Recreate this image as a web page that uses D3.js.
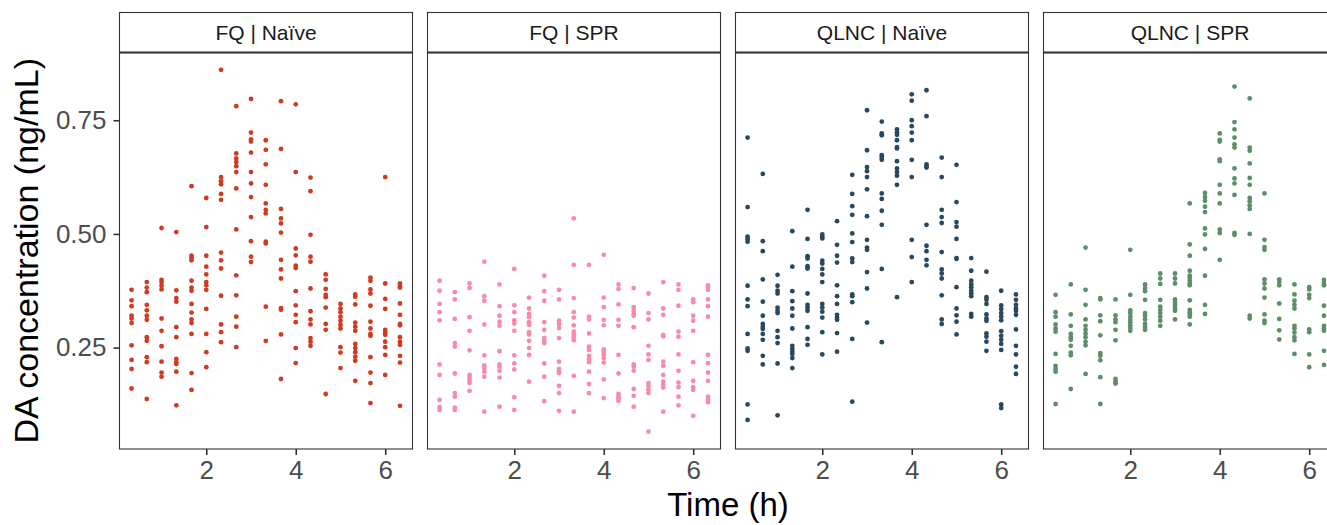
<!DOCTYPE html>
<html>
<head>
<meta charset="utf-8">
<script src="https://cdn.jsdelivr.net/npm/d3@7"></script>
<style>
  html, body { margin: 0; padding: 0; background: #fff; overflow: hidden; }
  text { font-family: "Liberation Sans", Arial, sans-serif; }
</style>
</head>
<body>
<div id="chart"></div>
<script>
// sampling times (h)
const times = [0.33, 0.67, 1, 1.33, 1.67, 2, 2.33, 2.67, 3, 3.33, 3.67, 4, 4.33, 4.67, 5, 5.33, 5.67, 6, 6.33];

const panelNames = ["FQ | Naïve", "FQ | SPR", "QLNC | Naïve", "QLNC | SPR"];
const panelColors = ["#D23A20", "#F98BA6", "#29485E", "#5C8E69"];

// DA concentration (ng/mL), one inner list per sampling time
const fqNaive = [
  [0.377, 0.354, 0.341, 0.320, 0.314, 0.304, 0.255, 0.223, 0.203, 0.160],
  [0.394, 0.382, 0.372, 0.344, 0.332, 0.320, 0.311, 0.273, 0.265, 0.229, 0.218, 0.137],
  [0.513, 0.399, 0.394, 0.386, 0.378, 0.314, 0.287, 0.253, 0.219, 0.195, 0.186],
  [0.504, 0.376, 0.359, 0.351, 0.295, 0.273, 0.225, 0.218, 0.214, 0.197, 0.123],
  [0.605, 0.452, 0.447, 0.442, 0.397, 0.382, 0.375, 0.346, 0.327, 0.312, 0.304, 0.280, 0.194, 0.157],
  [0.579, 0.515, 0.452, 0.428, 0.411, 0.394, 0.387, 0.377, 0.335, 0.280, 0.240, 0.207],
  [0.861, 0.625, 0.616, 0.609, 0.588, 0.575, 0.459, 0.442, 0.424, 0.364, 0.301, 0.284, 0.262],
  [0.781, 0.677, 0.666, 0.658, 0.649, 0.636, 0.600, 0.510, 0.409, 0.365, 0.318, 0.296, 0.251],
  [0.797, 0.723, 0.708, 0.703, 0.679, 0.636, 0.611, 0.581, 0.537, 0.484, 0.450, 0.438],
  [0.706, 0.685, 0.653, 0.608, 0.567, 0.553, 0.545, 0.483, 0.479, 0.340, 0.265],
  [0.792, 0.687, 0.555, 0.534, 0.523, 0.503, 0.443, 0.422, 0.402, 0.337, 0.333, 0.279, 0.181],
  [0.785, 0.636, 0.468, 0.453, 0.430, 0.425, 0.374, 0.343, 0.322, 0.306, 0.249, 0.216],
  [0.624, 0.594, 0.498, 0.450, 0.439, 0.380, 0.330, 0.312, 0.301, 0.271, 0.263, 0.254],
  [0.411, 0.399, 0.379, 0.366, 0.361, 0.338, 0.302, 0.289, 0.148],
  [0.346, 0.336, 0.328, 0.318, 0.309, 0.300, 0.292, 0.251, 0.239, 0.205],
  [0.367, 0.362, 0.345, 0.305, 0.296, 0.287, 0.258, 0.249, 0.240, 0.230, 0.221, 0.177],
  [0.404, 0.397, 0.378, 0.369, 0.342, 0.307, 0.292, 0.280, 0.276, 0.229, 0.195, 0.172, 0.128],
  [0.625, 0.391, 0.357, 0.335, 0.289, 0.283, 0.278, 0.263, 0.251, 0.234, 0.190],
  [0.391, 0.386, 0.382, 0.347, 0.322, 0.302, 0.299, 0.273, 0.263, 0.256, 0.232, 0.217, 0.122]
];

const fqSpr = [
  [0.397, 0.375, 0.346, 0.328, 0.310, 0.213, 0.190, 0.135, 0.119, 0.113],
  [0.372, 0.356, 0.313, 0.260, 0.252, 0.193, 0.150, 0.142, 0.118, 0.113],
  [0.391, 0.381, 0.317, 0.287, 0.244, 0.190, 0.185, 0.179, 0.172, 0.155],
  [0.439, 0.363, 0.353, 0.301, 0.233, 0.211, 0.205, 0.197, 0.186, 0.109],
  [0.389, 0.341, 0.320, 0.307, 0.298, 0.242, 0.213, 0.208, 0.199, 0.184, 0.120],
  [0.423, 0.343, 0.328, 0.310, 0.303, 0.287, 0.233, 0.215, 0.202, 0.141, 0.113],
  [0.360, 0.336, 0.324, 0.317, 0.306, 0.300, 0.284, 0.279, 0.265, 0.249, 0.234, 0.175],
  [0.408, 0.374, 0.353, 0.306, 0.289, 0.271, 0.265, 0.260, 0.215, 0.186, 0.132],
  [0.377, 0.356, 0.309, 0.302, 0.293, 0.271, 0.219, 0.203, 0.197, 0.194, 0.166, 0.150, 0.111],
  [0.534, 0.432, 0.359, 0.328, 0.316, 0.299, 0.285, 0.279, 0.273, 0.266, 0.188, 0.109],
  [0.432, 0.318, 0.312, 0.281, 0.252, 0.245, 0.232, 0.224, 0.218, 0.197, 0.170, 0.150],
  [0.454, 0.360, 0.339, 0.311, 0.299, 0.246, 0.241, 0.235, 0.227, 0.217, 0.180, 0.139],
  [0.389, 0.379, 0.345, 0.311, 0.298, 0.234, 0.193, 0.148, 0.142, 0.138, 0.133],
  [0.381, 0.339, 0.331, 0.324, 0.320, 0.295, 0.213, 0.208, 0.199, 0.159, 0.144, 0.120],
  [0.369, 0.326, 0.312, 0.254, 0.235, 0.223, 0.172, 0.166, 0.158, 0.150, 0.065],
  [0.394, 0.336, 0.322, 0.278, 0.275, 0.219, 0.210, 0.190, 0.175, 0.168, 0.162, 0.109],
  [0.389, 0.377, 0.342, 0.285, 0.274, 0.235, 0.199, 0.173, 0.163, 0.142, 0.123],
  [0.356, 0.350, 0.320, 0.309, 0.287, 0.218, 0.177, 0.163, 0.157, 0.100],
  [0.387, 0.382, 0.377, 0.356, 0.341, 0.318, 0.234, 0.216, 0.195, 0.177, 0.142, 0.136, 0.130]
];

const qlncNaive = [
  [0.712, 0.559, 0.494, 0.489, 0.483, 0.386, 0.356, 0.341, 0.280, 0.248, 0.243, 0.125, 0.091],
  [0.632, 0.484, 0.462, 0.400, 0.351, 0.320, 0.302, 0.296, 0.291, 0.280, 0.267, 0.232, 0.213],
  [0.410, 0.386, 0.375, 0.369, 0.338, 0.331, 0.326, 0.287, 0.273, 0.260, 0.215, 0.101],
  [0.506, 0.428, 0.374, 0.352, 0.336, 0.320, 0.292, 0.254, 0.247, 0.241, 0.236, 0.227, 0.205],
  [0.553, 0.489, 0.451, 0.446, 0.429, 0.424, 0.369, 0.344, 0.338, 0.331, 0.295, 0.269, 0.256],
  [0.499, 0.494, 0.490, 0.441, 0.435, 0.423, 0.411, 0.394, 0.346, 0.338, 0.329, 0.316, 0.284, 0.235],
  [0.528, 0.476, 0.452, 0.437, 0.387, 0.363, 0.346, 0.322, 0.316, 0.311, 0.282, 0.241],
  [0.630, 0.588, 0.561, 0.542, 0.501, 0.482, 0.446, 0.438, 0.367, 0.363, 0.350, 0.269, 0.131],
  [0.772, 0.684, 0.647, 0.638, 0.625, 0.598, 0.539, 0.487, 0.470, 0.465, 0.416, 0.380, 0.305],
  [0.747, 0.721, 0.717, 0.673, 0.668, 0.663, 0.589, 0.577, 0.551, 0.520, 0.423, 0.262],
  [0.730, 0.723, 0.718, 0.706, 0.691, 0.688, 0.660, 0.644, 0.636, 0.628, 0.608, 0.361],
  [0.807, 0.793, 0.750, 0.737, 0.723, 0.706, 0.663, 0.625, 0.487, 0.449, 0.394],
  [0.816, 0.759, 0.653, 0.649, 0.646, 0.520, 0.474, 0.462, 0.443, 0.431],
  [0.668, 0.625, 0.553, 0.537, 0.524, 0.460, 0.422, 0.413, 0.402, 0.365, 0.312, 0.302],
  [0.652, 0.570, 0.526, 0.516, 0.489, 0.447, 0.445, 0.383, 0.336, 0.321, 0.307, 0.279],
  [0.447, 0.419, 0.397, 0.389, 0.383, 0.375, 0.369, 0.363, 0.324, 0.318],
  [0.417, 0.361, 0.355, 0.346, 0.323, 0.314, 0.309, 0.281, 0.274, 0.263, 0.243],
  [0.375, 0.343, 0.335, 0.326, 0.318, 0.310, 0.286, 0.276, 0.267, 0.258, 0.245, 0.125, 0.117],
  [0.367, 0.355, 0.344, 0.336, 0.331, 0.322, 0.290, 0.254, 0.235, 0.208, 0.192]
];

const qlncSpr = [
  [0.366, 0.328, 0.318, 0.301, 0.292, 0.285, 0.236, 0.210, 0.203, 0.197, 0.126],
  [0.389, 0.323, 0.298, 0.280, 0.273, 0.267, 0.254, 0.239, 0.233, 0.159],
  [0.470, 0.377, 0.344, 0.312, 0.298, 0.289, 0.281, 0.273, 0.263, 0.255, 0.192],
  [0.359, 0.356, 0.321, 0.308, 0.277, 0.238, 0.232, 0.222, 0.185, 0.126],
  [0.356, 0.321, 0.312, 0.306, 0.289, 0.266, 0.181, 0.175, 0.171],
  [0.465, 0.366, 0.332, 0.326, 0.318, 0.311, 0.305, 0.299, 0.293, 0.287],
  [0.389, 0.381, 0.374, 0.355, 0.326, 0.320, 0.312, 0.302, 0.296, 0.289],
  [0.413, 0.402, 0.390, 0.355, 0.340, 0.333, 0.326, 0.318, 0.309, 0.298],
  [0.413, 0.402, 0.391, 0.356, 0.349, 0.343, 0.336, 0.331, 0.312],
  [0.567, 0.477, 0.452, 0.419, 0.408, 0.403, 0.397, 0.391, 0.387, 0.354, 0.333, 0.328, 0.323, 0.318, 0.301],
  [0.590, 0.581, 0.573, 0.560, 0.548, 0.512, 0.499, 0.467, 0.408, 0.344, 0.324],
  [0.721, 0.707, 0.703, 0.664, 0.660, 0.608, 0.589, 0.567, 0.510, 0.502, 0.443],
  [0.824, 0.746, 0.730, 0.712, 0.697, 0.690, 0.644, 0.622, 0.611, 0.586, 0.502, 0.498],
  [0.798, 0.690, 0.683, 0.655, 0.623, 0.608, 0.579, 0.572, 0.563, 0.555, 0.500, 0.320, 0.314],
  [0.589, 0.487, 0.471, 0.465, 0.400, 0.391, 0.380, 0.360, 0.323, 0.309, 0.304],
  [0.400, 0.394, 0.387, 0.347, 0.313, 0.288, 0.268],
  [0.389, 0.367, 0.353, 0.344, 0.336, 0.298, 0.292, 0.283, 0.273, 0.266, 0.236],
  [0.383, 0.378, 0.366, 0.359, 0.290, 0.284, 0.235, 0.207],
  [0.399, 0.392, 0.387, 0.342, 0.320, 0.298, 0.292, 0.287, 0.243, 0.212]
];

const xTicks = [2, 4, 6];
const yTicks = [0.25, 0.50, 0.75];

const panels = [fqNaive, fqSpr, qlncNaive, qlncSpr];

const width = 1345, height = 525;
const panelW = 293, panelH = 396.5, gap = 15;
const left0 = 119.5, top0 = 52.5, stripH = 40;

const svg = d3.select("#chart").append("svg")
  .attr("width", width)
  .attr("height", height);

const x = d3.scaleLinear().domain([0.06, 6.61]).range([0, panelW]);
const y = d3.scaleLinear().domain([0.027, 0.899]).range([panelH, 0]);

panels.forEach((cols, i) => {
  const g = svg.append("g")
    .attr("transform", `translate(${left0 + i * (panelW + gap)},${top0})`);

  const pts = [];
  cols.forEach((vals, j) => vals.forEach(v => pts.push({ t: times[j], v })));

  g.append("rect")
    .attr("width", panelW).attr("height", panelH)
    .attr("fill", "#fff");

  g.selectAll("circle")
    .data(pts)
    .join("circle")
    .attr("cx", d => x(d.t))
    .attr("cy", d => y(d.v))
    .attr("r", 2.4)
    .attr("fill", panelColors[i]);

  g.append("rect")
    .attr("width", panelW).attr("height", panelH)
    .attr("fill", "none")
    .attr("stroke", "#333333")
    .attr("stroke-width", 1.1);

  // strip
  g.append("rect")
    .attr("y", -stripH)
    .attr("width", panelW).attr("height", stripH)
    .attr("fill", "#fff")
    .attr("stroke", "#333333")
    .attr("stroke-width", 1.1);
  g.append("line")
    .attr("x1", 0).attr("x2", panelW)
    .attr("y1", 0).attr("y2", 0)
    .attr("stroke", "#333333")
    .attr("stroke-width", 2);
  g.append("text")
    .attr("x", panelW / 2)
    .attr("y", -12.5)
    .attr("text-anchor", "middle")
    .attr("font-size", 21)
    .attr("fill", "#1A1A1A")
    .text(panelNames[i]);

  // x axis
  const xAxis = g.append("g")
    .attr("transform", `translate(0,${panelH})`)
    .call(d3.axisBottom(x).tickValues(xTicks).tickSize(6).tickPadding(6).tickFormat(d3.format("d")));
  xAxis.select(".domain").remove();
  xAxis.selectAll("line").attr("stroke", "#333333").attr("stroke-width", 1.6);
  xAxis.selectAll("text")
    .attr("font-size", 26)
    .attr("fill", "#4D4D4D")
    .attr("font-family", "Liberation Sans, Arial, sans-serif");

  if (i === 0) {
    const yAxis = g.append("g")
      .call(d3.axisLeft(y).tickValues(yTicks).tickSize(6).tickPadding(7).tickFormat(d3.format(".2f")));
    yAxis.select(".domain").remove();
    yAxis.selectAll("line").attr("stroke", "#333333").attr("stroke-width", 1.6);
    yAxis.selectAll("text")
      .attr("font-size", 26)
      .attr("fill", "#4D4D4D")
      .attr("font-family", "Liberation Sans, Arial, sans-serif");
  }
});

// axis titles
svg.append("text")
  .attr("transform", `translate(38,${top0 + panelH / 2}) rotate(-90)`)
  .attr("text-anchor", "middle")
  .attr("font-size", 34)
  .attr("fill", "#000")
  .text("DA concentration (ng/mL)");

svg.append("text")
  .attr("x", left0 + (4 * panelW + 3 * gap) / 2)
  .attr("y", 516)
  .attr("text-anchor", "middle")
  .attr("font-size", 33)
  .attr("fill", "#000")
  .text("Time (h)");
</script>
</body>
</html>
